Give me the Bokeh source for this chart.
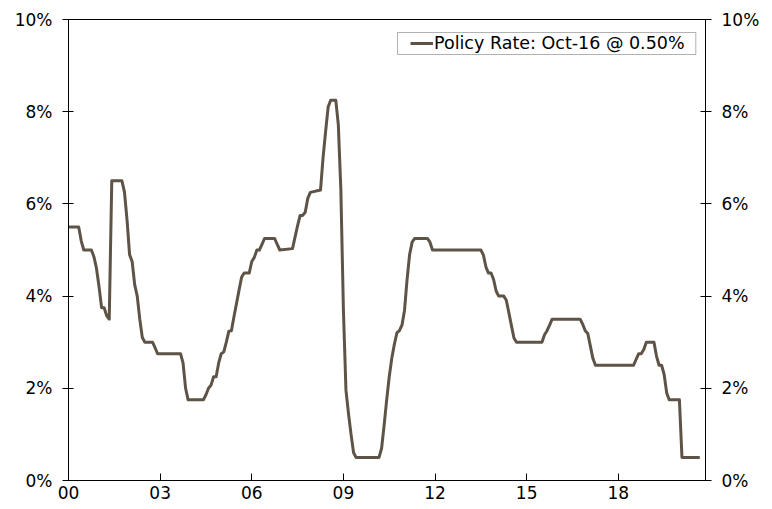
from bokeh.plotting import figure
from bokeh.models import Range1d, LinearAxis, FixedTicker, PrintfTickFormatter, BoxAnnotation, Legend, LegendItem
from bokeh.embed import file_html
from bokeh.resources import INLINE

# month index counted from Jan 2000, and the policy rate (%) read at those months
months = [0, 4, 5, 6, 9, 10, 11, 12, 13, 14, 15, 16, 17, 21, 22, 23, 24, 25, 26, 27, 28, 29, 30,
          33, 34, 35, 44, 45, 46, 47, 53, 54, 55, 56, 57, 58, 59, 60, 61, 62, 63, 64, 65, 66, 67,
          68, 69, 71, 72, 73, 74, 75, 76, 77, 81, 82, 83, 88, 89, 90, 91, 92, 93, 94, 95, 99, 100,
          101, 102, 103, 105, 106, 107, 108, 109, 110, 111, 112, 113, 122, 123, 124, 125, 126, 127,
          128, 129, 130, 131, 132, 133, 134, 135, 136, 141, 142, 143, 162, 163, 164, 165, 166, 167,
          168, 169, 171, 172, 173, 174, 175, 176, 186, 187, 188, 189, 190, 201, 202, 203, 204, 205,
          206, 207, 222, 223, 224, 225, 226, 227, 230, 231, 232, 233, 234, 235, 236, 240, 241, 248]
rates = [5.5, 5.5, 5.2, 5.0, 5.0, 4.85, 4.6, 4.2, 3.75, 3.75, 3.57, 3.5, 6.5, 6.5, 6.25, 5.65, 4.9,
         4.75, 4.25, 4.0, 3.5, 3.1, 3.0,
         3.0, 2.88, 2.75, 2.75, 2.55, 2.0, 1.75, 1.75, 1.86, 2.0, 2.07, 2.25, 2.25, 2.55, 2.75, 2.79,
         3.0, 3.24, 3.25, 3.55, 3.84, 4.13,
         4.41, 4.5, 4.5, 4.75, 4.84, 5.0, 5.0, 5.12, 5.25, 5.25, 5.12, 5.0, 5.03, 5.28, 5.53, 5.75,
         5.75, 5.82, 6.12, 6.25, 6.3, 7.0,
         7.57, 8.1, 8.25, 8.25, 7.72, 6.3, 3.7, 1.96, 1.45, 1.0, 0.6, 0.5, 0.5, 0.7, 1.2, 1.75, 2.25,
         2.65, 2.95, 3.2, 3.25, 3.37, 3.69, 4.35, 4.9, 5.17, 5.25, 5.25, 5.17, 5.0, 5.0, 4.89, 4.63,
         4.5, 4.5, 4.36,
         4.11, 4.0, 4.0, 3.91, 3.64, 3.36, 3.09, 3.0, 3.0, 3.16, 3.25, 3.37, 3.5, 3.5, 3.39, 3.25,
         3.19, 2.92,
         2.65, 2.5, 2.5, 2.63, 2.75, 2.75, 2.84, 3.0, 3.0, 2.7, 2.5, 2.5, 2.3, 1.9, 1.75, 1.75, 0.5, 0.5]
series_label = "Policy Rate: Oct-16 @ 0.50%"

start_year = 2000
x_end_year = 2020.854
x_tick_years = [2000, 2003, 2006, 2009, 2012, 2015, 2018]
x_tick_labels = ["00", "03", "06", "09", "12", "15", "18"]
y_ticks = [0, 2, 4, 6, 8, 10]

LINE = "#5E5347"
FONT = "DejaVu Sans"
FS = "17px"
LEG_FS = "17.5px"

xs = [start_year + m / 12 for m in months]

p = figure(width=764, height=505, output_backend="svg", toolbar_location=None,
           x_range=Range1d(start_year, x_end_year), y_range=Range1d(0, 10),
           min_border_left=68, min_border_right=59, min_border_top=19, min_border_bottom=25)
p.grid.visible = False
p.outline_line_color = "black"
p.outline_line_width = 1
p.background_fill_color = "white"
p.border_fill_color = "white"

r = p.line(xs, rates, line_color=LINE, line_width=3, line_join="round")

# x axis
xa = p.xaxis[0]
xa.ticker = FixedTicker(ticks=x_tick_years)
xa.major_label_overrides = {y: l for y, l in zip(x_tick_years, x_tick_labels)}
xa.major_tick_in = 7
xa.major_tick_out = 0
xa.minor_tick_line_color = None
xa.axis_line_color = "black"
xa.major_tick_line_color = "black"
xa.major_label_standoff = 5
xa.major_label_text_font = FONT
xa.major_label_text_font_size = FS
xa.major_label_text_color = "black"

# y axes (left and right)
ya = p.yaxis[0]
ya2 = LinearAxis()
p.add_layout(ya2, "right")
for a in (ya, ya2):
    a.ticker = FixedTicker(ticks=y_ticks)
    a.formatter = PrintfTickFormatter(format="%d%%")
    a.major_tick_in = 5
    a.major_tick_out = 6
    a.minor_tick_line_color = None
    a.axis_line_color = "black"
    a.major_tick_line_color = "black"
    a.major_label_standoff = 10
    a.major_label_text_font = FONT
    a.major_label_text_font_size = FS
    a.major_label_text_color = "black"

legend = Legend(items=[LegendItem(label=series_label, renderers=[r])],
                location=(342, 427), padding=0, spacing=0, margin=0,
                glyph_width=23, glyph_height=20, label_height=20, label_standoff=1,
                label_text_font=FONT, label_text_font_size=LEG_FS, label_text_color="black",
                border_line_alpha=0, background_fill_alpha=0)
p.add_layout(legend, "center")

frame_box = BoxAnnotation(left=329, right=627.3, bottom=426, top=448,
                          left_units="screen", right_units="screen",
                          bottom_units="screen", top_units="screen",
                          fill_alpha=0, line_color="black", line_width=1)
p.add_layout(frame_box)

open("out.html", "w").write(file_html(p, INLINE))
